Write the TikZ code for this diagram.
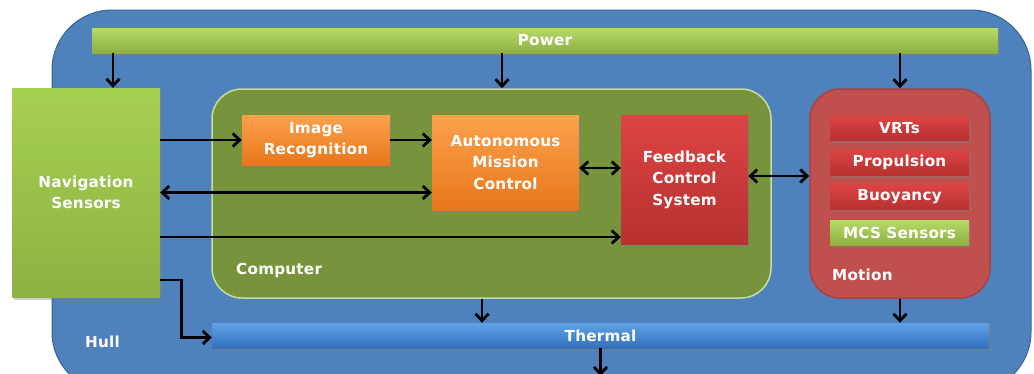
\documentclass[tikz,border=0pt]{standalone}
\usepackage{fontspec}
\setmainfont{DejaVu Sans}[LetterSpace=1.5]
\usetikzlibrary{arrows.meta,shadows,calc}
\definecolor{hullblue}{HTML}{4F81BD}
\definecolor{hullborder}{HTML}{3A6594}
\definecolor{pwrtop}{HTML}{B6DA68}
\definecolor{pwrbot}{HTML}{8DB040}
\definecolor{navtop}{HTML}{A6D052}
\definecolor{navbot}{HTML}{8CB242}
\definecolor{compfill}{HTML}{77933C}
\definecolor{compborder}{HTML}{C8DC9C}
\definecolor{ortop}{HTML}{FBA24C}
\definecolor{orbot}{HTML}{E8761C}
\definecolor{redtop}{HTML}{DC4444}
\definecolor{redbot}{HTML}{B83030}
\definecolor{motfill}{HTML}{C0504D}
\definecolor{motborder}{HTML}{A84240}
\definecolor{thtop}{HTML}{5FA2E6}
\definecolor{thbot}{HTML}{3270BC}
\tikzset{
  x=1pt, y=-1pt,
  txt/.style={text=white, font=\bfseries\fontsize{15.2}{21.5}\selectfont, align=center, inner sep=0pt},
  box/.style={txt, draw=none, drop shadow={opacity=0.4, shadow xshift=2pt, shadow yshift=-2.5pt}},
  greenbar/.style={box, top color=pwrtop, bottom color=pwrbot},
  navbox/.style={box, top color=navtop, bottom color=navbot},
  orbox/.style={box, top color=ortop, bottom color=orbot},
  redbox/.style={box, top color=redtop, bottom color=redbot},
  bluebar/.style={box, top color=thtop, bottom color=thbot},
  group/.style={rounded corners=30pt, line width=1.5pt},
  lbl/.style={txt, anchor=west},
  tip/.tip={Straight Barb[length=7pt,width=13pt,line width=2.8pt]},
  arr/.style={line width=2.8pt, -tip},
  darr/.style={line width=2.8pt, tip-tip}
}
\begin{document}
\begin{tikzpicture}
\useasboundingbox (0,0) rectangle (1034,373);
\clip (0,0) rectangle (1034,373);
\fill[white] (0,0) rectangle (1034,373);
% Hull
\draw[fill=hullblue, draw=hullborder, line width=1pt, rounded corners=60pt] (52,10) rectangle (1031,392);
\node[lbl] (hull) at (85,342) {Hull};
% Power
\node[greenbar, minimum width=906pt, minimum height=25pt] (power) at (545,40.5) {Power};
% Navigation Sensors
\node[navbox, minimum width=148pt, minimum height=209pt] (nav) at (86,192.5) {Navigation\\Sensors};
% Computer group
\node[group, fill=compfill, draw=compborder, minimum width=559pt, minimum height=209pt] (comp) at (491.5,193.5) {};
\node[lbl] (complbl) at (236,270) {Computer};
\node[orbox, minimum width=148pt, minimum height=50pt] (img) at (316,140) {Image\\Recognition};
\node[orbox, minimum width=147pt, minimum height=95pt] (amc) at (505.5,162.5) {Autonomous\\Mission\\Control};
\node[redbox, minimum width=127pt, minimum height=129pt] (fcs) at (684.5,179.5) {Feedback\\Control\\System};
% Motion group
\node[group, fill=motfill, draw=motborder, minimum width=180pt, minimum height=209pt] (motion) at (900,193.5) {};
\node[lbl] (motlbl) at (832,275) {Motion};
\node[redbox, minimum width=139pt, minimum height=24pt] (vrt) at (899.5,128) {VRTs};
\node[redbox, minimum width=139pt, minimum height=25pt] (prop) at (899.5,162.5) {Propulsion};
\node[redbox, minimum width=139pt, minimum height=25pt] (buoy) at (899.5,197) {Buoyancy};
\node[greenbar, minimum width=139pt, minimum height=25pt] (mcs) at (899.5,232.5) {MCS Sensors};
% Thermal
\node[bluebar, minimum width=777pt, minimum height=25pt] (thermal) at (600.5,335.5) {Thermal};
% helper coordinates
\coordinate (out) at (600.5,376);
\coordinate (navtop) at ($(nav.north)+(27,0)$);
\coordinate (comptop) at ($(comp.north)+(10.5,0)$);
\coordinate (navlow) at ($(nav.east)+(0,44.5)$);
\coordinate (amcr) at ($(amc.east)+(0,5.5)$);
\coordinate (fcsr) at ($(fcs.east)+(0,-3.5)$);
\coordinate (compbot) at ($(comp.south)+(-9.5,0)$);
\coordinate (navbot) at ($(nav.east)+(0,87.5)$);
\coordinate (thin) at ($(thermal.west)+(0,2)$);
% Arrows from power
\draw[arr] (navtop |- power.south) -- (navtop);
\draw[arr] (comptop |- power.south) -- (comptop);
\draw[arr] (motion.north |- power.south) -- (motion.north);
% Internal arrows
\draw[arr] (nav.east |- img.west) -- (img.west);
\draw[arr] (img.east) -- (img.east -| amc.west);
\draw[darr] (nav.east) -- (nav.east -| amc.west);
\draw[arr] (navlow) -- (navlow -| fcs.west);
\draw[darr] (amcr) -- (amcr -| fcs.west);
\draw[darr] (fcsr) -- (fcsr -| motion.west);
% To thermal
\draw[arr] (compbot) -- (compbot |- thermal.north);
\draw[arr] (motion.south) -- (motion.south |- thermal.north);
\draw[arr] (navbot) -- ++(21,0) |- (thin);
\draw[arr] (thermal.south) -- (out);
\end{tikzpicture}
\end{document}
